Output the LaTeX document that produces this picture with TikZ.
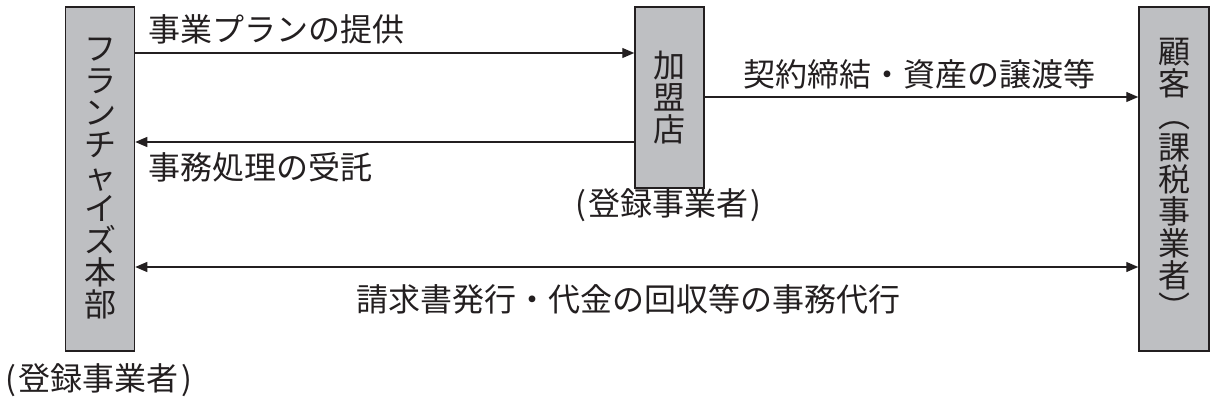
\documentclass[tikz,border=0pt]{standalone}
\usepackage{fontspec}
\setmainfont{Noto Sans CJK JP}
\usetikzlibrary{arrows.meta}
\definecolor{boxgray}{RGB}{190,191,194}
\definecolor{ink}{RGB}{35,31,32}
\newcommand{\regtxt}{(\hspace{2.5pt}登録事業者\hspace{2.5pt})}
\tikzset{
  party/.style={draw=ink, line width=1.5pt, fill=boxgray, inner sep=0pt, align=center,
                font=\fontsize{32}{32}\selectfont, text=ink},
  flow/.style={draw=ink, line width=1.3pt, -{Triangle[length=12pt,width=10pt]}},
  flow2/.style={draw=ink, line width=1.3pt, {Triangle[length=12pt,width=10pt]}-{Triangle[length=12pt,width=10pt]}},
  lbl/.style={inner sep=0pt, font=\fontsize{32}{32}\selectfont, text=ink}
}
\begin{document}
\begin{tikzpicture}[x=1pt,y=-1pt]
\useasboundingbox (0,0) rectangle (1219,409);
\node[party, minimum width=69pt, minimum height=344pt] (hq) at (100,179)
  {フ\\ラ\\ン\\チ\\ャ\\イ\\ズ\\本\\部};
\node[party, minimum width=69pt, minimum height=181pt] (shop) at (669.5,97.5)
  {加\\盟\\店};
\node[party, minimum width=70pt, minimum height=344pt] (cust) at (1174,179)
  {\fontsize{32}{33.5}\selectfont 顧\\客\\︵\\課\\税\\事\\業\\者\\︶};

\coordinate (ya) at (0,53);
\coordinate (yb) at (0,142);
\coordinate (yc) at (0,97);
\coordinate (yd) at (0,267);

\draw[flow] (hq.east |- ya) -- (shop.west |- ya);
\draw[flow] (shop.west |- yb) -- (hq.east |- yb);
\draw[flow] (shop.east |- yc) -- (cust.west |- yc);
\draw[flow2] (hq.east |- yd) -- (cust.west |- yd);

\node[lbl, anchor=west] (t1) at (148,29) {事業プランの提供};
\node[lbl, anchor=west] (t2) at (148,167) {事務処理の受託};
\node[lbl, anchor=west] (t3) at (743,74) {契約締結・資産の譲渡等};
\node[lbl, anchor=west] (t4) at (356,299) {請求書発行・代金の回収等の事務代行};
\node[lbl] (r1) at (99,380) {\regtxt};
\node[lbl] (r2) at (668.5,205) {\regtxt};
\end{tikzpicture}
\end{document}
